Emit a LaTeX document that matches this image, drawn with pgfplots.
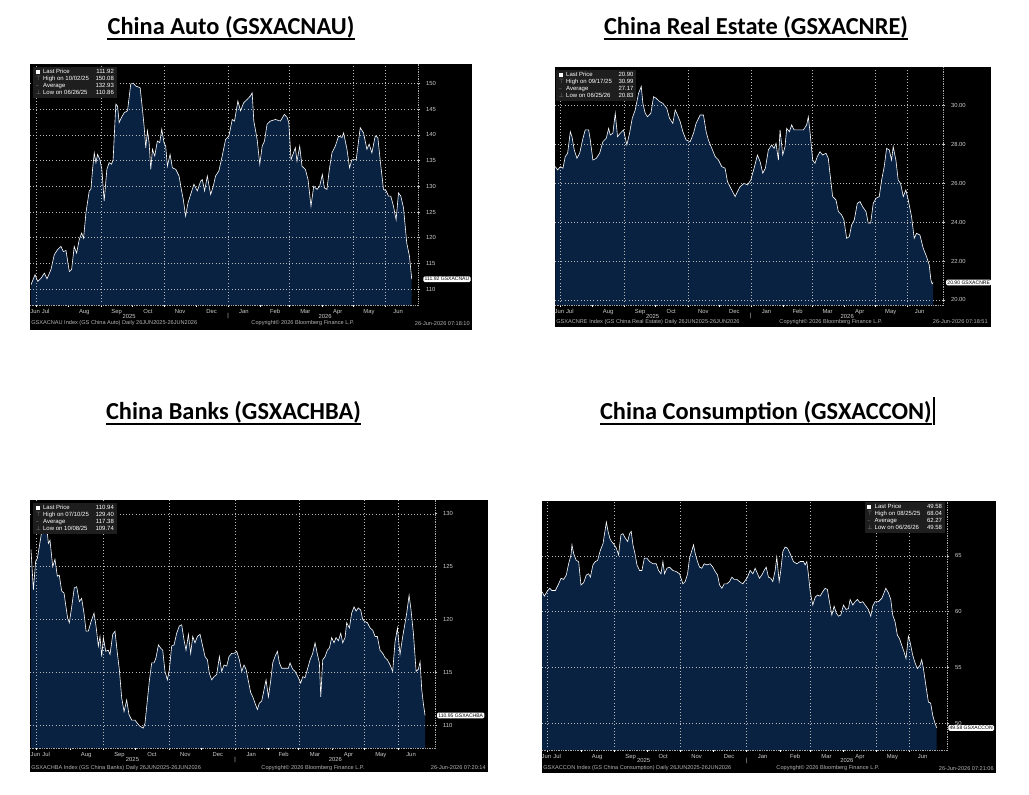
\documentclass[border=0pt]{standalone}
\usepackage{fontspec}
\usepackage{pgfplots}
\pgfplotsset{compat=1.18}
\usepackage{pgfplotstable}
\setmainfont{Liberation Sans}
\newfontfamily\titlefont{Carlito}
\newfontfamily\symfont{DejaVu Sans}
\definecolor{navy}{RGB}{10,34,66}
\definecolor{lbl}{RGB}{205,205,205}
\definecolor{foot}{RGB}{180,180,180}
\definecolor{legbg}{RGB}{30,30,30}
\newcommand{\sm}{\fontsize{4.4}{5}\selectfont}
\newcommand{\legtab}[6]{%
\begin{tabular}{@{}l@{\hspace{1.5pt}}l@{\hspace{5pt}}r@{}}
\textcolor{white}{\rule{2.8pt}{2.8pt}} & Last Price & #1\\
\textcolor{gray}{\symfont ⊤} & High on #2 & #3\\
\textcolor{gray}{\symfont –} & Average & #4\\
\textcolor{gray}{\symfont ⊥} & Low on #5 & #6
\end{tabular}}
\newcommand{\vgrid}[2]{\pgfplotsinvokeforeach{5,67,128,189,248,309,340}{\draw[gray!55, dotted, line width=0.35pt] (axis cs:##1,#1) -- (axis cs:##1,#2);}}
\tikzset{
 leg/.style={fill=legbg, text=white, inner xsep=2pt, inner ysep=1.2pt, font=\fontsize{4.5}{5.1}\selectfont},
 tag/.style={fill=white, text=black, rounded corners=1pt, inner xsep=1pt, inner ysep=0.8pt, font=\fontsize{3.8}{4}\selectfont},
 ft/.style={text=foot, inner sep=0pt, font=\fontsize{4.2}{5}\selectfont},
 yr/.style={text=lbl, inner sep=0pt, font=\sm},
 ttl/.style={anchor=base, inner sep=0pt, font=\titlefont\bfseries\fontsize{18.3}{20}\selectfont}
}
\pgfplotsset{
 bb/.style={
  scale only axis, anchor=south west,
  axis background/.style={fill=black},
  axis on top,
  axis x line*=bottom, axis y line*=right,
  axis line style={gray!70, line width=0.3pt, densely dotted},
  xtick={4,14,51,82,112,143,173,204,234,263,294,324,352},
  xticklabels={Jun,Jul,Aug,Sep,Oct,Nov,Dec,Jan,Feb,Mar,Apr,May,Jun},
  major x tick style={draw=none},
  minor xtick={5,36,67,97,128,158,189,220,248,279,309,340},
  minor x tick style={white, line width=0.4pt},
  minor tick length=1.5pt,
  major tick length=1.8pt,
  tick align=outside,
  xticklabel style={font=\sm, text=lbl, inner sep=0pt, anchor=base, yshift=-4.6pt},
  ytick pos=right, yticklabel pos=right,
  major y tick style={lbl, line width=0.4pt},
  yticklabel style={font=\sm, text=lbl, inner sep=0pt, anchor=west, xshift=4pt},
  xmajorgrids=false, ymajorgrids=true,
  major grid style={gray!55, dotted, line width=0.35pt},
  clip mode=individual,
  /pgf/number format/assume math mode=true,
 }
}
\pgfplotstableread{
x y
0 110.86
3.8 112.8
6.4 111.5
9.6 112.1
12.8 113.1
15.3 112.0
19.1 113.8
22.3 116.7
25.5 117.7
28.7 118.3
30.9 117.3
33.5 117.5
36.7 113.4
38.9 113.8
41.4 118.3
43.7 117.0
46.2 119.6
48.5 120.9
50.4 119.9
52.6 124.8
55.8 129.1
57.4 129.4
59.0 133.3
60.6 136.5
62.2 134.6
63.8 136.2
66.0 135.2
67.9 133.3
70.1 127.1
72.7 133.3
74.9 134.6
77.2 134.3
78.7 135.2
81.3 146.0
82.9 145.6
84.5 142.4
86.7 143.4
89.3 144.3
92.5 144.7
95.6 149.9
98.0 150.08
100.4 149.5
104.6 149.2
106.8 145.0
108.4 141.7
110.0 137.5
111.6 140.8
113.2 138.5
114.8 133.3
116.4 137.2
118.6 135.9
121.1 138.8
123.4 138.5
125.3 141.1
127.5 138.5
129.1 137.8
130.7 133.9
133.3 136.2
135.5 133.6
138.7 133.3
141.9 132.0
144.1 129.4
146.0 127.4
148.2 124.2
150.5 126.8
153.0 128.4
156.2 130.4
159.4 129.1
162.6 131.0
164.2 131.3
166.4 129.1
169.0 132.0
172.2 128.4
174.7 130.0
176.9 132.0
180.1 133.0
183.3 135.9
186.5 139.1
189.7 139.8
192.9 143.0
195.1 142.7
198.3 146.6
200.8 144.7
204.0 146.3
207.2 146.9
210.4 147.6
212.0 148.2
213.6 142.7
216.8 139.1
219.3 134.3
221.6 137.8
223.8 138.8
226.3 142.1
229.5 142.7
234.3 143.0
239.1 142.7
242.9 144.0
245.5 143.4
247.1 142.4
249.3 135.2
253.4 137.5
255.0 134.9
257.6 137.8
259.8 133.9
263.0 133.3
265.6 131.3
268.4 126.1
271.0 130.0
274.2 129.4
276.7 130.0
279.3 132.3
281.2 129.7
283.7 129.4
286.0 133.3
288.5 136.5
291.7 137.8
294.9 139.8
298.1 139.5
299.7 140.4
302.9 137.2
305.4 133.6
307.6 135.2
311.8 135.2
315.6 141.4
318.8 140.4
322.0 137.2
324.2 138.2
326.8 136.5
330.0 139.8
332.5 139.5
334.7 135.2
337.9 129.4
340.5 129.1
342.7 128.1
344.9 128.1
347.5 126.1
350.0 123.5
352.3 128.7
354.5 128.1
357.1 125.8
360.2 119.0
362.8 116.4
365 111.92
}\dAuto
\pgfplotstableread{
x y
0 26.86
2.3 26.69
4.8 26.86
7.4 26.78
9.6 27.38
11.9 27.55
14.5 28.66
16.1 28.40
18.3 27.72
20.9 27.29
23.5 27.55
26.7 28.32
28.9 28.75
32.2 28.75
33.8 28.23
36.3 27.20
39.6 27.29
42.8 27.55
46.0 28.15
49.2 28.32
51.5 28.83
53.1 28.49
55.6 28.58
57.9 29.61
60.1 28.40
62.7 28.58
65.9 28.75
69.1 27.98
71.7 28.58
74.3 29.35
77.2 29.78
80.4 30.63
83.0 30.99
84.6 30.12
86.8 29.61
89.1 29.43
92.3 29.61
94.9 30.46
97.4 30.38
100.7 30.21
103.9 30.12
107.7 29.86
110.3 29.35
113.5 29.09
115.8 29.78
118.0 29.52
120.6 29.18
123.2 28.66
126.4 28.23
130.3 28.15
133.5 28.58
136.0 29.09
139.9 29.52
143.1 29.52
145.7 28.66
147.9 28.23
151.2 27.80
154.4 27.38
157.6 27.20
160.8 26.86
164.0 26.78
166.3 26.09
169.5 25.75
173.7 25.32
175.9 25.57
178.5 25.83
182.3 26.00
185.6 25.92
188.8 26.17
192.0 26.78
195.2 27.46
197.8 27.12
200.4 26.52
202.9 26.78
205.8 27.72
209.0 27.98
211.3 27.80
213.2 28.06
215.5 27.20
217.1 28.75
219.7 27.46
221.9 27.89
223.5 28.83
226.1 28.66
228.3 29.01
230.6 28.75
234.8 28.75
239.6 28.75
242.8 29.01
244.4 29.43
246.0 28.66
248.6 27.20
250.8 27.03
253.1 27.38
255.7 27.63
258.2 27.46
261.5 27.55
263.7 27.29
265.3 26.52
267.9 25.32
271.1 25.15
273.4 24.55
276.6 24.37
278.8 24.12
281.4 23.17
284.0 23.26
286.2 23.86
288.8 24.12
291.7 24.97
294.3 25.06
296.8 24.80
300.1 24.55
302.3 23.95
304.6 23.95
307.1 24.97
309.7 25.23
312.9 25.32
315.2 26.17
317.7 26.86
320.0 27.80
322.6 27.72
324.8 27.20
326.4 27.89
329.0 27.20
331.2 26.17
333.5 26.00
336.1 25.32
338.6 25.66
340.9 25.15
344.1 24.29
346.7 23.17
348.9 23.43
352.2 23.34
355.4 22.66
358.6 22.23
361.2 21.80
362.8 21.03
364 20.83
365 20.90
}\dRE
\pgfplotstableread{
x y
0 126.6
2.2 122.8
4.3 125.5
5.9 125.8
7.7 126.9
9.9 128.3
11.4 128.5
13.9 129.4
16.1 127.2
17.6 127.5
20.1 125.0
22.2 125.7
24.4 124.1
26.2 124.2
28.4 122.7
30.6 122.5
32.4 121.2
34.0 120.1
35.5 119.7
37.7 121.2
40.1 123.0
42.3 123.1
44.8 121.7
46.9 122.0
49.1 120.6
51.0 118.9
53.1 118.9
55.6 119.8
58.4 120.6
60.2 119.4
62.4 117.5
63.9 118.4
65.5 116.5
67.0 118.3
69.2 117.0
71.6 117.1
73.2 116.7
75.7 118.6
77.8 118.9
80.0 116.8
81.8 115.3
84.0 112.6
86.2 111.3
88.6 112.4
90.8 111.0
93.3 110.5
96.3 110.5
98.5 110.2
101.0 109.9
104.0 109.74
105.6 110.2
107.8 112.4
109.6 114.2
111.8 115.9
114.0 115.9
115.8 116.4
118.0 117.6
120.1 117.3
122.0 117.1
124.1 115.1
126.3 114.3
128.2 115.3
130.3 117.5
132.5 117.6
134.9 118.7
137.4 119.4
139.6 119.5
141.7 118.1
143.6 117.1
145.8 118.6
147.9 116.8
149.8 118.4
151.9 117.8
154.1 118.4
156.6 118.6
159.0 117.5
161.2 116.5
163.4 116.2
165.2 114.9
167.4 114.3
169.5 114.6
172.0 114.8
174.5 116.5
176.6 115.1
178.8 115.7
181.3 115.6
183.4 116.5
185.9 116.8
188.1 116.8
190.5 117.0
193.0 116.2
195.2 115.1
197.3 115.7
199.2 115.3
201.3 114.2
203.5 113.1
205.4 112.7
207.5 112.1
209.7 111.5
211.5 112.1
213.7 112.3
215.9 113.4
217.7 114.3
219.9 112.7
222.0 114.2
223.9 115.9
226.0 116.5
228.2 117.0
230.1 115.9
232.2 115.4
235.3 115.4
238.4 115.4
239.9 115.9
242.4 115.3
244.6 115.1
247.7 114.5
249.8 114.0
251.7 114.6
253.8 114.5
256.0 115.3
258.5 116.2
260.9 116.8
263.1 117.8
265.3 116.7
267.1 115.9
268.4 112.7
270.2 116.2
272.4 116.5
274.5 117.1
276.4 117.3
278.5 118.3
280.7 117.8
282.5 118.3
284.7 118.0
286.9 118.7
288.7 117.8
290.9 118.3
292.4 119.7
294.9 119.2
297.0 120.6
299.2 121.2
301.1 120.8
303.2 121.1
305.4 120.9
307.2 120.0
309.4 119.8
311.6 119.7
314.1 119.2
316.5 119.0
318.7 118.4
320.8 118.4
323.3 117.1
325.8 116.8
327.9 116.4
330.1 116.2
332.6 115.7
335.0 115.1
337.2 117.9
339.4 119.2
341.8 116.7
344.3 118.4
346.5 119.7
348.0 120.6
350.2 122.3
352.0 120.9
354.2 118.7
356.7 115.1
358.8 115.3
360.4 116.0
361.9 113.4
363.5 112.0
365 110.94
}\dBank
\pgfplotstableread{
x y
0 61.8
2.2 61.4
4.6 61.8
7.1 62.1
9.2 61.9
12.3 61.9
15.4 62.5
17.6 63.0
20.0 62.9
22.5 63.3
24.6 64.3
26.8 65.1
27.7 66.0
29.3 65.2
31.7 64.6
33.9 64.5
36.0 62.4
38.5 62.6
41.0 63.3
43.1 63.4
44.7 63.1
47.1 64.2
49.3 64.5
51.4 64.6
53.9 65.5
56.4 66.1
59.5 68.04
61.1 67.2
62.7 66.6
64.2 66.3
66.2 66.1
68.7 65.7
70.8 65.1
73.0 66.9
74.8 67.0
77.0 66.6
79.2 66.3
81.0 67.0
82.5 67.2
84.1 66.0
86.2 65.1
87.8 64.2
90.2 63.7
92.4 63.7
94.6 64.8
97.0 64.8
99.5 64.5
102.6 64.3
105.6 64.3
107.8 63.7
110.0 63.4
111.8 64.5
113.3 63.4
115.5 63.9
117.9 64.0
121.0 63.7
124.1 63.6
127.2 63.4
130.3 62.5
132.4 62.7
134.6 63.4
136.4 64.8
138.6 65.5
140.1 66.0
141.7 65.2
143.8 64.5
145.7 64.0
147.8 63.9
150.0 64.3
152.5 64.2
155.5 64.3
158.0 64.0
160.2 63.6
162.3 63.3
164.2 62.4
166.3 62.1
168.5 62.5
170.9 62.5
173.4 62.7
175.6 63.1
177.7 62.9
180.2 62.9
182.6 62.7
185.7 62.5
187.9 62.8
190.0 63.1
192.5 63.7
195.0 63.4
197.1 63.9
199.3 63.4
201.1 63.0
203.3 63.3
205.4 63.7
207.3 64.0
209.4 63.1
211.6 63.0
213.4 62.7
215.6 63.7
217.1 64.9
219.3 62.7
220.8 63.7
222.7 65.4
224.8 65.8
227.0 65.7
229.5 65.2
232.5 64.5
235.6 64.3
238.7 64.5
241.8 64.5
243.3 64.2
244.9 64.5
246.4 63.3
248.0 61.8
250.4 60.6
252.6 61.3
254.7 61.5
257.2 61.4
259.6 61.8
261.8 62.1
263.9 62.0
265.8 60.9
268.0 59.7
270.1 60.5
272.0 59.9
274.1 59.6
276.3 59.7
278.7 60.6
281.2 60.2
283.4 60.3
284.9 61.1
287.4 60.6
289.5 60.9
291.7 61.1
294.1 60.8
296.6 60.9
298.8 60.6
301.8 60.2
304.0 59.6
305.8 60.5
308.0 60.9
311.1 60.9
314.2 61.2
316.3 61.7
317.9 62.1
320.3 61.7
322.5 61.1
324.3 59.7
326.5 59.1
328.6 57.9
330.5 57.6
332.6 57.0
334.8 56.4
336.6 55.8
338.8 57.8
340.3 57.3
342.8 56.1
345.0 55.4
347.1 54.9
349.6 55.2
351.1 55.7
352.7 54.9
355.1 53.3
357.3 51.9
359.4 51.8
361.3 50.7
363.4 50.0
365 49.58
}\dCon
\begin{document}
\begin{tikzpicture}
\useasboundingbox (0,0) rectangle (771.75pt,596.25pt);
\fill[white] (0,0) rectangle (771.75pt,596.25pt);
% titles
\node[ttl] (T1) at (173.25pt,570pt) {China Auto (GSXACNAU)};
\draw[line width=1.6pt] ([yshift=-3.2pt]T1.base west) -- ([yshift=-3.2pt]T1.base east);
\node[ttl] (T2) at (567pt,570pt) {China Real Estate (GSXACNRE)};
\draw[line width=1.6pt] ([yshift=-3.2pt]T2.base west) -- ([yshift=-3.2pt]T2.base east);
\node[ttl] (T3) at (175.1pt,281.25pt) {China Banks (GSXACHBA)};
\draw[line width=1.6pt] ([yshift=-3.2pt]T3.base west) -- ([yshift=-3.2pt]T3.base east);
\node[ttl] (T4) at (574.4pt,281.25pt) {China Consumption (GSXACCON)};
\draw[line width=1.6pt] ([yshift=-3.2pt]T4.base west) -- ([yshift=-3.2pt]T4.base east);
\draw[line width=0.8pt] ([xshift=1.5pt,yshift=-3.5pt]T4.base east) -- ([xshift=1.5pt,yshift=17pt]T4.base east);
% black panels
\fill[black] (22.5pt,348.75pt) rectangle (354pt,548.25pt);
\fill[black] (416.25pt,351pt) rectangle (743.25pt,546pt);
\fill[black] (22.5pt,17.25pt) rectangle (366pt,221.25pt);
\fill[black] (406.5pt,16.5pt) rectangle (747pt,220.5pt);
% ---------- panel 1
\begin{axis}[bb, at={(22.5pt,367.5pt)}, width=291pt, height=180.75pt,
  xmin=-1, xmax=371, ymin=106.9, ymax=153.8, ytick={110,115,...,150}]
\addplot[draw=none, fill=navy] table {\dAuto} \closedcycle;
\vgrid{106.9}{153.8}
\addplot[white, line width=0.45pt] table {\dAuto};
\coordinate (L1) at (axis cs:365,111.92);
\node[yr] at ([yshift=-8.25pt]axis cs:94,106.9) {2025};
\node[yr] at ([yshift=-8.25pt]axis cs:282,106.9) {2026};
\node[yr] at ([yshift=-8.25pt]axis cs:189,106.9) {|};
\end{axis}
\node[leg, anchor=north west] at (24.75pt,546pt) {\legtab{111.92}{10/02/25}{150.08}{132.93}{06/26/25}{110.86}};
\node[tag, anchor=west] at ([xshift=8.5pt]L1) {111.92 GSXACNAU};
\node[ft, anchor=west] at (23.25pt,353.8pt) {GSXACNAU Index (GS China Auto) Daily 26JUN2025-26JUN2026};
\node[ft] at (227.25pt,353.8pt) {Copyright© 2026 Bloomberg Finance L.P.};
\node[ft, anchor=east] at (352.5pt,353.8pt) {26-Jun-2026 07:18:10};
% ---------- panel 2
\begin{axis}[bb, at={(416.25pt,367.5pt)}, width=291pt, height=178.5pt,
  xmin=-0.3, xmax=374.5, ymin=19.74, ymax=31.99, ytick={20,22,...,30},
  yticklabel={\pgfmathprintnumber[fixed,fixed zerofill,precision=2]{\tick}}]
\addplot[draw=none, fill=navy] table {\dRE} \closedcycle;
\vgrid{19.74}{31.99}
\addplot[white, line width=0.45pt] table {\dRE};
\coordinate (L2) at (axis cs:365,20.90);
\node[yr] at ([yshift=-8.25pt]axis cs:94,19.74) {2025};
\node[yr] at ([yshift=-8.25pt]axis cs:282,19.74) {2026};
\node[yr] at ([yshift=-8.25pt]axis cs:189,19.74) {|};
\end{axis}
\node[leg, anchor=north west] at (417pt,543.75pt) {\legtab{20.90}{09/17/25}{30.99}{27.17}{06/25/26}{20.83}};
\node[tag, anchor=west] at ([xshift=9.5pt]L2) {20.90 GSXACNRE};
\node[ft, anchor=west] at (417pt,355pt) {GSXACNRE Index (GS China Real Estate) Daily 26JUN2025-26JUN2026};
\node[ft] at (623.25pt,355pt) {Copyright© 2026 Bloomberg Finance L.P.};
\node[ft, anchor=east] at (741pt,355pt) {26-Jun-2026 07:18:51};
% ---------- panel 3
\begin{axis}[bb, at={(22.5pt,35.25pt)}, width=303.75pt, height=186pt,
  xmin=-0.93, xmax=374.2, ymin=107.86, ymax=131.3, ytick={110,115,...,130}]
\addplot[draw=none, fill=navy] table {\dBank} \closedcycle;
\vgrid{107.86}{131.3}
\addplot[white, line width=0.45pt] table {\dBank};
\coordinate (L3) at (axis cs:365,110.94);
\node[yr] at ([yshift=-8.7pt]axis cs:94,107.86) {2025};
\node[yr] at ([yshift=-8.7pt]axis cs:282,107.86) {2026};
\node[yr] at ([yshift=-8.7pt]axis cs:189,107.86) {|};
\end{axis}
\node[leg, anchor=north west] at (24.75pt,219pt) {\legtab{110.94}{07/10/25}{129.40}{117.38}{10/08/25}{109.74}};
\node[tag, anchor=west] at ([xshift=8.8pt]L3) {110.95 GSXACHBA};
\node[ft, anchor=west] at (23.25pt,20.5pt) {GSXACHBA Index (GS China Banks) Daily 26JUN2025-26JUN2026};
\node[ft] at (234.75pt,20.5pt) {Copyright© 2026 Bloomberg Finance L.P.};
\node[ft, anchor=east] at (364.5pt,20.5pt) {26-Jun-2026 07:20:14};
% ---------- panel 4
\begin{axis}[bb, at={(406.5pt,33.75pt)}, width=303.75pt, height=186.75pt,
  xmin=0, xmax=374.5, ymin=47.6, ymax=69.93, ytick={50,55,60,65}]
\addplot[draw=none, fill=navy] table {\dCon} \closedcycle;
\vgrid{47.6}{69.93}
\addplot[white, line width=0.45pt] table {\dCon};
\coordinate (L4) at (axis cs:365,49.58);
\node[yr] at ([yshift=-8pt]axis cs:94,47.6) {2025};
\node[yr] at ([yshift=-8pt]axis cs:282,47.6) {2026};
\node[yr] at ([yshift=-8pt]axis cs:189,47.6) {|};
\end{axis}
\node[leg, anchor=north east] at (708.75pt,219.75pt) {\legtab{49.58}{08/25/25}{68.04}{62.27}{06/26/26}{49.58}};
\node[tag, anchor=west] at ([xshift=8.5pt]L4) {49.58 GSXACCON};
\node[ft, anchor=west] at (407.25pt,20pt) {GSXACCON Index (GS China Consumption) Daily 26JUN2025-26JUN2026};
\node[ft] at (621pt,20pt) {Copyright© 2026 Bloomberg Finance L.P.};
\node[ft, anchor=east] at (745.5pt,20pt) {26-Jun-2026 07:21:06};
\end{tikzpicture}
\end{document}
